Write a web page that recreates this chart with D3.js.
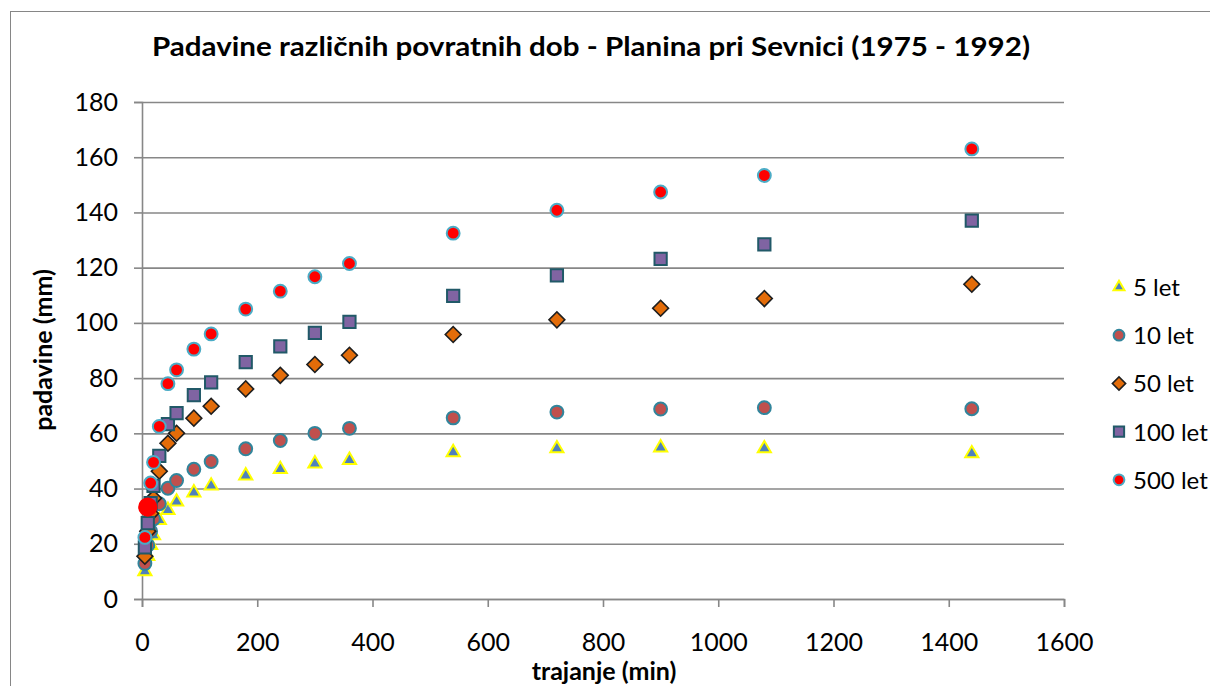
<!DOCTYPE html>
<html>
<head>
<meta charset="utf-8">
<script src="https://cdn.jsdelivr.net/npm/d3@7"></script>
<style>
  body { margin: 0; background: #fff; }
  text { font-family: Lato, "Open Sans", sans-serif; fill: #000; }
</style>
</head>
<body>
<div id="chart"></div>
<script>
// data (mm of rain for each duration in minutes)
const durations = [5, 10, 15, 20, 30, 45, 60, 90, 120, 180, 240, 300, 360, 540, 720, 900, 1080, 1440];
const let5   = [10, 15.5, 19.5, 23, 28.5, 32.2, 35.2, 38.5, 41, 44.7, 47, 49, 50.3, 53.1, 54.5, 54.8, 54.5, 52.7];
const let10  = [12.9, 19.5, 24.5, 29, 34.5, 40.1, 42.9, 47, 49.8, 54.4, 57.4, 60, 61.8, 65.6, 67.7, 68.8, 69.3, 68.9];
const let50  = [15.5, 24.5, 31, 36.5, 46.3, 56.4, 60, 65.5, 69.8, 76.1, 81, 84.9, 88.3, 95.8, 101.1, 105.3, 108.8, 114];
const let100 = [18.7, 27.5, 34.7, 41, 51.8, 63.3, 67.3, 73.8, 78.5, 85.8, 91.5, 96.4, 100.4, 109.8, 117.2, 123.2, 128.4, 137];
const let500 = [22.3, 33.3, 42, 49.5, 62.5, 78, 83, 90.5, 96, 105, 111.5, 116.7, 121.5, 132.5, 140.8, 147.4, 153.4, 163];
const seriesNames = ['5 let', '10 let', '50 let', '100 let', '500 let'];
const xTicks = [0, 200, 400, 600, 800, 1000, 1200, 1400, 1600];
const yTicks = [0, 20, 40, 60, 80, 100, 120, 140, 160, 180];

// marker look per series
const markers = [
  { type: d3.symbolTriangle, size: 75, rot: 0, fill: '#4F81BD', stroke: '#FFFF00', sw: 2 },
  { type: d3.symbolCircle, size: 130, rot: 0, fill: '#C0504D', stroke: '#31859C', sw: 2 },
  { type: d3.symbolSquare, size: 125, rot: 45, fill: '#E36C09', stroke: '#1F1F1F', sw: 1.6 },
  { type: d3.symbolSquare, size: 150, rot: 0, fill: '#8064A2', stroke: '#215968', sw: 2 },
  { type: d3.symbolCircle, size: 130, rot: 0, fill: '#FF0000', stroke: '#4BACC6', sw: 2 }
];
// one point of 500 let is drawn bigger without border in the original
const bigPoint = { series: 4, index: 1 };

const W = 1210, H = 686;
const margin = { top: 102, right: 146, bottom: 87, left: 142 };
const width = W - margin.left - margin.right;
const height = H - margin.top - margin.bottom;

const svg = d3.select('#chart').append('svg')
  .attr('width', W).attr('height', H);

// outer chart frame
svg.append('rect')
  .attr('x', 10.5).attr('y', 11.5)
  .attr('width', 1300).attr('height', 900)
  .attr('fill', 'none').attr('stroke', '#868686').attr('stroke-width', 1);

svg.append('text')
  .attr('x', 591).attr('y', 56)
  .attr('text-anchor', 'middle')
  .attr('font-size', 27).attr('font-weight', 'bold')
  .attr('textLength', 878).attr('lengthAdjust', 'spacingAndGlyphs')
  .text('Padavine različnih povratnih dob - Planina pri Sevnici (1975 - 1992)');

const x = d3.scaleLinear().domain([0, 1600]).range([0, width]);
const y = d3.scaleLinear().domain([0, 180]).range([height, 0]);

const group = svg.append('g').attr('transform', `translate(${margin.left}, ${margin.top})`);

// gridlines
group.append('g')
  .attr('class', 'grid')
  .call(d3.axisLeft(y).tickValues(yTicks).tickSize(-width).tickFormat(''))
  .call(g => g.select('.domain').remove())
  .selectAll('line')
  .attr('stroke', '#878787').attr('stroke-width', 1.6);

// y axis
group.append('g')
  .call(d3.axisLeft(y).tickValues(yTicks).tickSize(8).tickPadding(16))
  .call(g => g.select('.domain').attr('stroke', '#878787').attr('stroke-width', 1.6))
  .call(g => g.selectAll('line').attr('stroke', '#878787').attr('stroke-width', 1.6))
  .call(g => g.selectAll('text').attr('font-size', 25).attr('font-family', 'Lato, sans-serif'));

// x axis
group.append('g')
  .attr('transform', `translate(0, ${height})`)
  .call(d3.axisBottom(x).tickValues(xTicks).tickFormat(d3.format('d')).tickSize(8).tickPadding(26))
  .call(g => g.select('.domain').attr('stroke', '#878787').attr('stroke-width', 1.6))
  .call(g => g.selectAll('line').attr('stroke', '#878787').attr('stroke-width', 1.6))
  .call(g => g.selectAll('text').attr('font-size', 25).attr('font-family', 'Lato, sans-serif'));

svg.append('text')
  .attr('x', 604).attr('y', 680)
  .attr('text-anchor', 'middle')
  .attr('font-size', 25).attr('font-weight', 'bold')
  .text('trajanje (min)');

svg.append('text')
  .attr('transform', 'translate(52, 350) rotate(-90)')
  .attr('text-anchor', 'middle')
  .attr('font-size', 25).attr('font-weight', 'bold')
  .text('padavine (mm)');

// points
const allValues = [let5, let10, let50, let100, let500];
allValues.forEach((vals, si) => {
  const m = markers[si];
  const pts = durations.map((d, i) => ({ d: d, v: vals[i], i: i }));
  group.append('g').selectAll('path')
    .data(pts)
    .enter()
    .append('path')
    .attr('transform', p => `translate(${x(p.d)}, ${y(p.v)}) rotate(${m.rot})`)
    .attr('d', p => {
      const big = si === bigPoint.series && p.i === bigPoint.index;
      return d3.symbol().type(m.type).size(big ? 290 : m.size)();
    })
    .attr('fill', m.fill)
    .attr('stroke', p => (si === bigPoint.series && p.i === bigPoint.index) ? 'none' : m.stroke)
    .attr('stroke-width', m.sw);
});

// legend
const legend = svg.append('g').attr('transform', 'translate(1119, 287)');
seriesNames.forEach((name, i) => {
  const m = markers[i];
  const row = legend.append('g').attr('transform', `translate(0, ${i * 48.2})`);
  row.append('path')
    .attr('transform', `rotate(${m.rot})`)
    .attr('d', d3.symbol().type(m.type).size(m.size * 0.7)())
    .attr('fill', m.fill)
    .attr('stroke', m.stroke)
    .attr('stroke-width', m.sw);
  row.append('text')
    .attr('x', 14).attr('y', 9)
    .attr('font-size', 24)
    .text(name);
});
</script>
</body>
</html>
